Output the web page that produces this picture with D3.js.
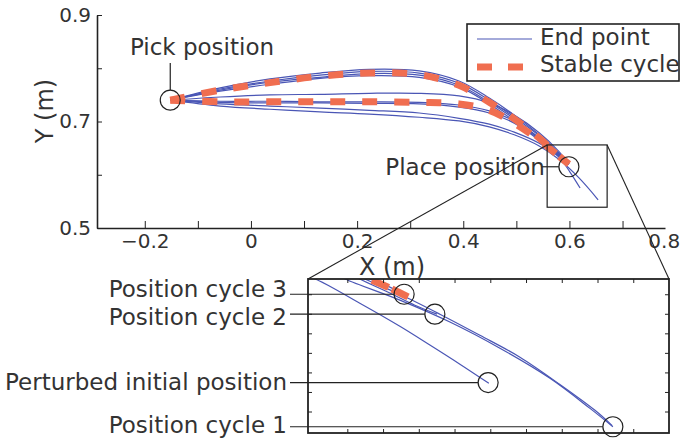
<!DOCTYPE html>
<html>
<head>
<meta charset="utf-8">
<script src="https://cdn.jsdelivr.net/npm/d3@7"></script>
<style>
  body { margin: 0; background: #fff; }
  text { font-family: "DejaVu Sans", sans-serif; fill: #333; }
</style>
</head>
<body>
<svg id="chart" width="680" height="439"></svg>
<script>
// x stations shared by the main trajectories (m)
const stationX = [-0.152, -0.058, 0.036, 0.130, 0.223, 0.317, 0.392, 0.449, 0.496, 0.543, 0.580];

// Y (m) of each end-point trajectory at those stations
const upper1 = [0.740, 0.763, 0.780, 0.791, 0.798, 0.795, 0.776, 0.744, 0.712, 0.675, 0.641];
const upper2 = [0.740, 0.761, 0.776, 0.787, 0.794, 0.791, 0.772, 0.740, 0.708, 0.673, 0.639];
const upper3 = [0.740, 0.759, 0.774, 0.783, 0.790, 0.787, 0.768, 0.736, 0.705, 0.669, 0.637];
const upper4 = [0.740, 0.757, 0.770, 0.781, 0.786, 0.783, 0.765, 0.733, 0.701, 0.667, 0.635];
const lower0 = [0.740, 0.746, 0.750, 0.751, 0.753, 0.753, 0.748, 0.735, 0.712, 0.679, 0.644];
const lower1 = [0.740, 0.738, 0.738, 0.737, 0.737, 0.736, 0.731, 0.720, 0.701, 0.669, 0.637];
const lower2 = [0.740, 0.736, 0.735, 0.735, 0.734, 0.733, 0.727, 0.716, 0.697, 0.665, 0.635];
const lower3 = [0.740, 0.733, 0.729, 0.725, 0.721, 0.716, 0.706, 0.695, 0.680, 0.659, 0.633];
const lower4 = [0.740, 0.729, 0.723, 0.718, 0.714, 0.708, 0.701, 0.690, 0.675, 0.654, 0.629];

// stable cycle, out and back legs
const stableUp = [0.740, 0.759, 0.773, 0.785, 0.791, 0.788, 0.768, 0.736, 0.705, 0.669, 0.635];
const stableDown = [0.740, 0.737, 0.737, 0.737, 0.737, 0.736, 0.733, 0.721, 0.697, 0.665, 0.635];

// where the trajectories finish
const placeEnd = [0.599, 0.620];
const tail3 = [[0.601, 0.605], [0.620, 0.575]];
const tail4 = [[0.618, 0.594], [0.654, 0.553]];

const pickPos = [-0.152, 0.740];
const placePos = [0.599, 0.615];
const zoomX = [0.558, 0.671];
const zoomY = [0.539, 0.656];

const xTicks = [-0.2, -0.1, 0, 0.1, 0.2, 0.3, 0.4, 0.5, 0.6, 0.7, 0.8];
const xTickLabels = ["−0.2", "", "0", "", "0.2", "", "0.4", "", "0.6", "", "0.8"];
const yTicks = [0.5, 0.6, 0.7, 0.8, 0.9];
const yTickLabels = ["0.5", "", "0.7", "", "0.9"];

// inset (zoom on the place position)
const insetXDomain = [0.549, 0.650];
const insetYDomain = [0.5395, 0.5789];
const insetXTicks = [0.56, 0.57, 0.58, 0.59, 0.60, 0.61, 0.62, 0.63, 0.64];
const insetYTicks = [0.545, 0.550, 0.555, 0.560, 0.565, 0.570, 0.575];

const perturbed = [[0.5456, 0.5804], [0.5510, 0.5789], [0.5635, 0.5727], [0.5747, 0.5668], [0.5831, 0.5620], [0.5915, 0.5571], [0.5996, 0.5522]];
const cycle1a = [[0.5552, 0.5810], [0.5594, 0.5789], [0.5747, 0.5735], [0.5887, 0.5679], [0.6027, 0.5612], [0.6167, 0.5535], [0.6279, 0.5458], [0.6343, 0.5411]];
const cycle1b = [[0.5608, 0.5810], [0.5649, 0.5789], [0.5747, 0.5750], [0.5859, 0.5699], [0.5971, 0.5645], [0.6083, 0.5589], [0.6195, 0.5519], [0.6293, 0.5453], [0.6341, 0.5414]];
const cycle2 = [[0.5594, 0.5810], [0.5635, 0.5789], [0.5719, 0.5753], [0.5789, 0.5722], [0.5851, 0.5699]];
const cycle3 = [[0.5622, 0.5810], [0.5663, 0.5789], [0.5705, 0.5774], [0.5759, 0.5750]];
const stableInset = [[0.5669, 0.5786], [0.5719, 0.5766], [0.5770, 0.5743]];

const insetMarks = [[0.5759, 0.5750], [0.5845, 0.5699], [0.5994, 0.5524], [0.6343, 0.5411]];
const insetLabels = ["Position cycle 3", "Position cycle 2", "Perturbed initial position", "Position cycle 1"];

const legendLabels = ["End point", "Stable cycle"];

const BLUE = "#4a56b5";
const ORANGE = "#f06e50";
const INK = "#222";

const svg = d3.select("#chart");

const x = d3.scaleLinear().domain([-0.29, 0.78]).range([97, 665]);
const y = d3.scaleLinear().domain([0.5, 0.9]).range([228, 15]);

const line = d3.line()
  .x((d) => x(d[0]))
  .y((d) => y(d[1]))
  .curve(d3.curveCatmullRom);

const withX = (ys) => stationX.map((xv, i) => [xv, ys[i]]);

const blueCurves = [
  withX(upper1).concat([placeEnd]),
  withX(upper2).concat([placeEnd]),
  withX(upper3).concat([placeEnd]),
  withX(upper4).concat([placeEnd]),
  withX(lower0).concat([placeEnd]),
  withX(lower1).concat([placeEnd]),
  withX(lower2).concat([placeEnd]),
  withX(lower3).concat(tail3),
  withX(lower4).concat(tail4),
];

// axes
const xAxis = d3.axisBottom(x)
  .tickValues(xTicks)
  .tickSizeInner(-7)
  .tickSizeOuter(0)
  .tickPadding(6)
  .tickFormat((d, i) => xTickLabels[i]);
const xg = svg.append("g").attr("transform", "translate(0,228)").call(xAxis);

// last label sits past the end of the axis line
xg.selectAll(".tick").filter((d) => d > 0.78).each(function () {
  d3.select(this).select("line").remove();
  d3.select(this).select("text").attr("text-anchor", "end").attr("x", 4);
});

const yAxis = d3.axisLeft(y)
  .tickValues(yTicks)
  .tickSizeInner(-5)
  .tickSizeOuter(0)
  .tickPadding(6)
  .tickFormat((d, i) => yTickLabels[i]);
const yg = svg.append("g").attr("transform", "translate(97,0)").call(yAxis);

[xg, yg].forEach((g) => {
  g.select(".domain").attr("stroke", INK).attr("stroke-width", 1.6);
  g.selectAll(".tick line").attr("stroke", INK).attr("stroke-width", 1);
  g.selectAll(".tick text").style("font-size", "20px").style("font-family", '"DejaVu Sans", sans-serif').attr("fill", "#333");
});

svg.append("text")
  .attr("x", 392)
  .attr("y", 275)
  .attr("text-anchor", "middle")
  .style("font-size", "24px")
  .text("X (m)");

svg.append("text")
  .attr("transform", "translate(53,111) rotate(-90)")
  .attr("text-anchor", "middle")
  .style("font-size", "24px")
  .text("Y (m)");

// trajectories
svg.append("g")
  .selectAll("path")
  .data(blueCurves)
  .join("path")
  .attr("d", line)
  .attr("fill", "none")
  .attr("stroke", BLUE)
  .attr("stroke-width", 1.2);

svg.append("g")
  .selectAll("path")
  .data([withX(stableUp).concat([placeEnd]), withX(stableDown).concat([placeEnd])])
  .join("path")
  .attr("d", line)
  .attr("fill", "none")
  .attr("stroke", ORANGE)
  .attr("stroke-width", 7)
  .attr("stroke-dasharray", "15,17");

// pick / place annotations
const pcx = x(pickPos[0]);
const pcy = y(pickPos[1]);
svg.append("circle").attr("cx", pcx).attr("cy", pcy).attr("r", 10)
  .attr("fill", "none").attr("stroke", INK).attr("stroke-width", 1.2);
svg.append("line").attr("x1", pcx).attr("x2", pcx).attr("y1", 63).attr("y2", pcy - 10)
  .attr("stroke", INK).attr("stroke-width", 1.2);
svg.append("text").attr("x", 202).attr("y", 55).attr("text-anchor", "middle")
  .style("font-size", "23px").text("Pick position");

const qcx = x(placePos[0]);
const qcy = y(placePos[1]);
svg.append("circle").attr("cx", qcx).attr("cy", qcy).attr("r", 10)
  .attr("fill", "none").attr("stroke", INK).attr("stroke-width", 1.2);
svg.append("line").attr("x1", qcx - 28).attr("x2", qcx - 10).attr("y1", qcy).attr("y2", qcy)
  .attr("stroke", INK).attr("stroke-width", 1.2);
svg.append("text").attr("x", qcx - 24).attr("y", qcy + 8).attr("text-anchor", "end")
  .style("font-size", "23px").text("Place position");

// zoom box and connectors
const bx0 = x(zoomX[0]), bx1 = x(zoomX[1]);
const by0 = y(zoomY[1]), by1 = y(zoomY[0]);
svg.append("rect").attr("x", bx0).attr("y", by0).attr("width", bx1 - bx0).attr("height", by1 - by0)
  .attr("fill", "none").attr("stroke", INK).attr("stroke-width", 1.2);

const inset = { left: 308, right: 669, top: 279, bottom: 433 };
svg.append("line").attr("x1", bx0).attr("y1", by0).attr("x2", inset.left).attr("y2", inset.top)
  .attr("stroke", INK).attr("stroke-width", 1.1);
svg.append("line").attr("x1", bx1).attr("y1", by0).attr("x2", inset.right).attr("y2", inset.top)
  .attr("stroke", INK).attr("stroke-width", 1.1);

// inset
const ix = d3.scaleLinear().domain(insetXDomain).range([inset.left, inset.right]);
const iy = d3.scaleLinear().domain(insetYDomain).range([inset.bottom, inset.top]);
const iline = d3.line()
  .x((d) => ix(d[0]))
  .y((d) => iy(d[1]))
  .curve(d3.curveCatmullRom);

svg.append("rect").attr("x", inset.left).attr("y", inset.top)
  .attr("width", inset.right - inset.left).attr("height", inset.bottom - inset.top)
  .attr("fill", "#fff");

svg.append("clipPath").attr("id", "insetClip")
  .append("rect").attr("x", inset.left).attr("y", inset.top)
  .attr("width", inset.right - inset.left).attr("height", inset.bottom - inset.top);

const ig = svg.append("g").attr("clip-path", "url(#insetClip)");
ig.selectAll("path.blue")
  .data([perturbed, cycle1a, cycle1b, cycle2, cycle3])
  .join("path")
  .attr("class", "blue")
  .attr("d", iline)
  .attr("fill", "none")
  .attr("stroke", BLUE)
  .attr("stroke-width", 1.2);
ig.append("path")
  .attr("d", iline(stableInset))
  .attr("fill", "none")
  .attr("stroke", ORANGE)
  .attr("stroke-width", 7)
  .attr("stroke-dasharray", "18,4");

const insetAxes = [
  { axis: d3.axisBottom(ix).tickValues(insetXTicks), t: `translate(0,${inset.bottom})` },
  { axis: d3.axisTop(ix).tickValues(insetXTicks), t: `translate(0,${inset.top})` },
  { axis: d3.axisLeft(iy).tickValues(insetYTicks), t: `translate(${inset.left},0)` },
  { axis: d3.axisRight(iy).tickValues(insetYTicks), t: `translate(${inset.right},0)` },
];
insetAxes.forEach((a) => {
  const g = svg.append("g").attr("transform", a.t)
    .call(a.axis.tickSizeInner(-4).tickSizeOuter(0).tickFormat(""));
  g.select(".domain").remove();
  g.selectAll(".tick line").attr("stroke", INK);
});

svg.append("rect").attr("x", inset.left).attr("y", inset.top)
  .attr("width", inset.right - inset.left).attr("height", inset.bottom - inset.top)
  .attr("fill", "none").attr("stroke", INK).attr("stroke-width", 1.8);

// label baselines relative to each circle, spread so the two top labels don't collide
const labelShift = [3, 11, 7, 6];
insetMarks.forEach((m, i) => {
  const cx = ix(m[0]);
  const cy = iy(m[1]);
  svg.append("circle").attr("cx", cx).attr("cy", cy).attr("r", 10)
    .attr("fill", "none").attr("stroke", INK).attr("stroke-width", 1.2);
  svg.append("line").attr("x1", 290).attr("x2", cx - 10).attr("y1", cy).attr("y2", cy)
    .attr("stroke", INK).attr("stroke-width", 1.2);
  svg.append("text").attr("x", 287).attr("y", cy + labelShift[i]).attr("text-anchor", "end")
    .style("font-size", "23px").text(insetLabels[i]);
});

// legend
const lg = svg.append("g");
lg.append("rect").attr("x", 467).attr("y", 24).attr("width", 212).attr("height", 57)
  .attr("fill", "#fff").attr("stroke", INK).attr("stroke-width", 1.6);
lg.append("line").attr("x1", 477).attr("x2", 532).attr("y1", 39).attr("y2", 39)
  .attr("stroke", BLUE).attr("stroke-width", 1.2);
lg.append("line").attr("x1", 477).attr("x2", 532).attr("y1", 67).attr("y2", 67)
  .attr("stroke", ORANGE).attr("stroke-width", 7).attr("stroke-dasharray", "15,16");
lg.selectAll("text")
  .data(legendLabels)
  .join("text")
  .attr("x", 540)
  .attr("y", (d, i) => 45 + i * 27)
  .style("font-size", "23px")
  .text((d) => d);
</script>
</body>
</html>
